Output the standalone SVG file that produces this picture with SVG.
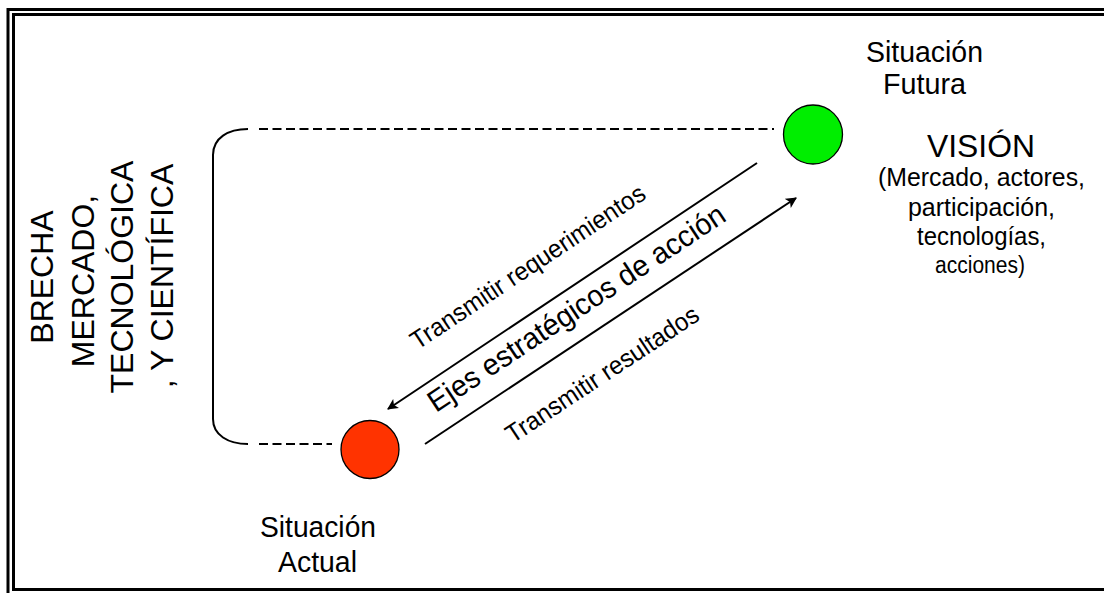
<svg xmlns="http://www.w3.org/2000/svg" width="1104" height="593" viewBox="0 0 1104 593">
<defs>
<style>
text{font-family:"Liberation Sans",Arial,sans-serif;fill:#000}
.frame{fill:none;stroke:#000;stroke-width:3}
.dash{fill:none;stroke:#000;stroke-width:2;stroke-dasharray:9 4.5}
.ln{fill:none;stroke:#000;stroke-width:2}
.node{stroke:#000;stroke-width:1.3}
</style>
<marker id="ah" viewBox="0 0 10 10" refX="9" refY="5" markerWidth="5.5" markerHeight="5.5" orient="auto" markerUnits="strokeWidth">
<path d="M0,0 L10,5 L0,10 L2.5,5 Z" fill="#000"/>
</marker>
</defs>
<rect width="1104" height="593" fill="#fff"/>
<g id="frame">
<rect class="frame" x="8" y="9.5" width="1110" height="600"/>
<rect class="frame" x="13.5" y="14.5" width="1110" height="575"/>
</g>
<g id="connectors">
<path class="ln" d="M248,129 C228,129 213,138 213,155 L213,419 C213,435 228,444 248,444"/>
<line class="dash" x1="259" y1="129" x2="774" y2="129"/>
<line class="dash" x1="259" y1="444" x2="332" y2="444"/>
<line class="ln" x1="757" y1="163" x2="388" y2="409" marker-end="url(#ah)"/>
<line class="ln" x1="425" y1="444" x2="796" y2="198" marker-end="url(#ah)"/>
</g>
<g id="actual">
<circle class="node" cx="370" cy="449.5" r="29" fill="#FF3300"/>
<text x="318" y="537" font-size="30" text-anchor="middle" textLength="116" lengthAdjust="spacingAndGlyphs">Situación</text>
<text x="317.5" y="572" font-size="30" text-anchor="middle" textLength="79" lengthAdjust="spacingAndGlyphs">Actual</text>
</g>
<g id="futura">
<circle class="node" cx="813" cy="134.5" r="29.5" fill="#00EE00"/>
<text x="924.5" y="62" font-size="30" text-anchor="middle" textLength="117" lengthAdjust="spacingAndGlyphs">Situación</text>
<text x="924.5" y="94" font-size="30" text-anchor="middle" textLength="83" lengthAdjust="spacingAndGlyphs">Futura</text>
</g>
<g id="vision">
<text x="981" y="157" font-size="31" text-anchor="middle" textLength="108" lengthAdjust="spacingAndGlyphs">VISIÓN</text>
<text x="981.5" y="186" font-size="25" text-anchor="middle" textLength="207" lengthAdjust="spacingAndGlyphs">(Mercado, actores,</text>
<text x="981.5" y="216" font-size="25" text-anchor="middle" textLength="147" lengthAdjust="spacingAndGlyphs">participación,</text>
<text x="981.5" y="245" font-size="25" text-anchor="middle" textLength="129" lengthAdjust="spacingAndGlyphs">tecnologías,</text>
<text x="980" y="273" font-size="23" text-anchor="middle" textLength="90" lengthAdjust="spacingAndGlyphs">acciones)</text>
</g>
<g id="brecha">
<text transform="translate(53,277) rotate(-90)" font-size="32" text-anchor="middle">BRECHA</text>
<text transform="translate(94,281) rotate(-90)" font-size="32" text-anchor="middle">MERCADO,</text>
<text transform="translate(133,277) rotate(-90)" font-size="32" text-anchor="middle">TECNOLÓGICA</text>
<text transform="translate(173,276) rotate(-90)" font-size="32" text-anchor="middle">, Y CIENTÍFICA</text>
</g>
<g id="labels">
<text transform="translate(532.5,274) rotate(-33.5)" font-size="25.5" text-anchor="middle" textLength="276" lengthAdjust="spacingAndGlyphs">Transmitir requerimientos</text>
<text transform="translate(582,316.5) rotate(-33.5)" font-size="30" text-anchor="middle" textLength="350" lengthAdjust="spacingAndGlyphs">Ejes estratégicos de acción</text>
<text transform="translate(607,381.5) rotate(-33.5)" font-size="25.5" text-anchor="middle" textLength="226" lengthAdjust="spacingAndGlyphs">Transmitir resultados</text>
</g>
</svg>
